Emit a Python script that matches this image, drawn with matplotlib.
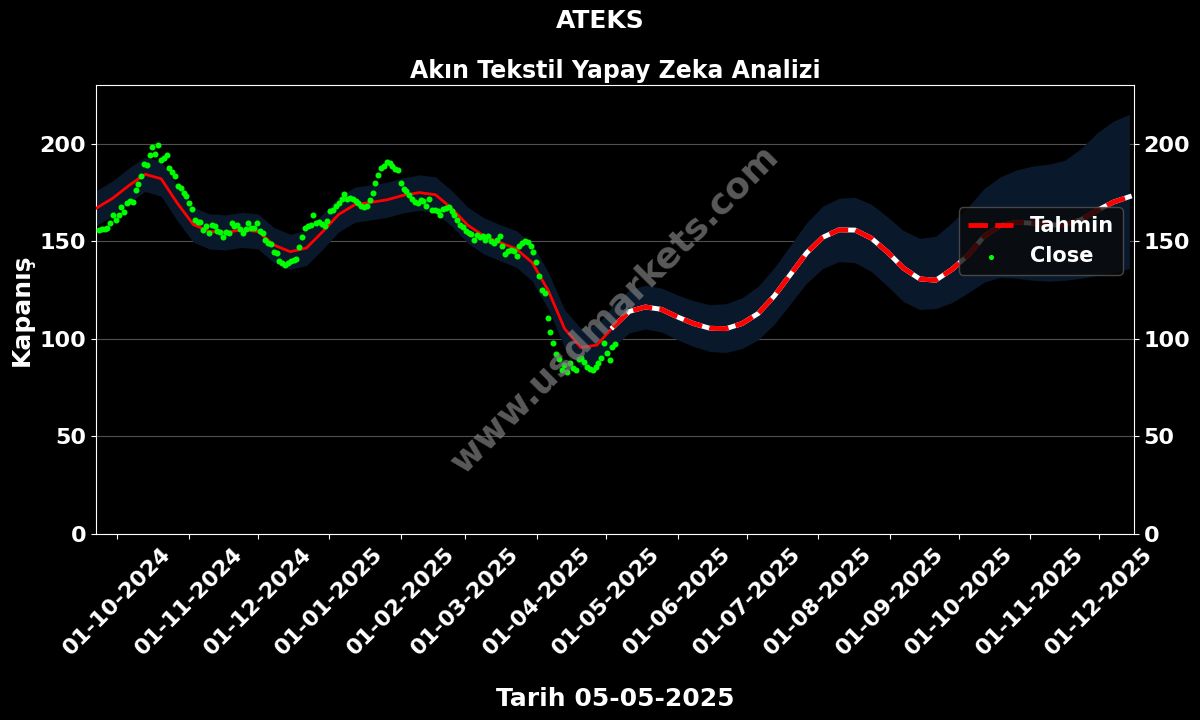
"""ATEKS yapay zeka tahmin grafigi."""
import matplotlib
matplotlib.use("Agg")
import matplotlib.pyplot as plt
import pandas as pd

# Close values (Sep 23 2024 -> May 5 2025)
close = [
    155.9, 156.2, 156.5, 157.0, 159.3, 163.6, 161.0, 163.6, 167.3, 165.0,
    169.8, 170.4, 170.2, 176.4, 179.3, 183.2, 189.6, 188.9, 194.0, 198.1,
    194.8, 199.5, 191.8, 192.6, 194.0, 187.5, 185.4, 183.2, 178.1, 177.3,
    174.7, 173.0, 169.6, 166.7, 161.0, 159.8, 159.8, 155.9, 157.6, 154.2,
    158.5, 158.0, 155.3, 154.9, 152.3, 154.5, 154.2, 159.5, 157.6, 158.5,
    156.0, 154.0, 156.0, 159.5, 157.0, 157.0, 159.5, 155.0, 154.0, 150.4,
    149.3, 148.5, 144.4, 144.0, 140.0, 138.8, 138.0, 138.8, 139.7, 140.5,
    141.0, 146.8, 152.4, 157.0, 157.6, 158.5, 163.6, 159.5, 160.0, 159.0,
    157.6, 160.5, 165.3, 166.2, 168.0, 169.6, 171.4, 174.0, 171.4, 172.0,
    171.6, 170.4, 169.6, 167.9, 167.5, 168.2, 171.3, 174.7, 179.8, 184.1,
    187.5, 188.7, 190.4, 190.0, 188.4, 187.0, 186.7, 179.8, 176.8, 175.6,
    173.8, 171.6, 169.9, 169.6, 171.3, 170.4, 167.9, 171.6, 166.2, 165.8,
    165.3, 163.6, 166.5, 167.0, 167.5, 165.3, 163.6, 161.0, 158.5, 157.2,
    155.0, 154.2, 153.8, 150.8, 153.3, 152.1, 152.8, 150.4, 152.5, 149.9,
    149.0, 150.4, 152.5, 147.4, 143.6, 144.8, 145.6, 144.8, 142.2, 147.4,
    149.0, 149.9, 149.4, 147.4, 144.3, 139.1, 132.0, 125.1, 123.4, 110.6,
    103.7, 97.8, 92.3, 89.6, 84.1, 86.6, 83.2, 87.5, 84.9, 84.1,
    89.6, 90.1, 87.9, 85.8, 84.5, 84.1, 85.5, 87.5, 90.1, 97.8,
    92.6, 88.9, 95.8, 97.5,
]
close_start = "2024-09-23"
close_end = "2025-05-05"

# model curve, weekly from 2024-09-22
fit = [
    167.0, 172.0, 178.5, 184.3, 182.0, 169.5, 158.5, 155.0, 154.5, 155.8,
    155.0, 148.0, 144.6, 146.5, 154.8, 163.7, 168.7, 169.9, 171.2, 173.5,
    174.9, 173.8, 166.9, 158.2, 152.7, 149.3, 146.1, 139.0, 124.5, 105.2,
    95.5, 96.8, 106.0, 114.0, 116.3, 115.1, 111.2, 107.8, 105.4, 105.2,
    107.8, 113.0, 122.0, 133.0, 144.0, 152.0, 155.8, 155.7, 151.6, 144.5,
    136.2, 130.7, 130.0, 135.5, 142.8, 152.5, 158.0, 159.7, 159.2, 158.2,
    158.5, 161.0, 165.8, 170.0, 172.8,
]
band_up = [
    176.0, 181.0, 187.5, 193.0, 191.0, 178.5, 167.5, 164.0, 163.5, 164.8,
    164.0, 157.0, 153.6, 155.5, 163.8, 172.7, 177.7, 178.9, 180.2, 182.5,
    184.0, 183.0, 176.0, 167.5, 162.0, 158.5, 155.5, 148.5, 134.0, 115.0,
    105.5, 107.0, 117.0, 125.0, 127.5, 126.0, 122.5, 119.5, 117.5, 118.0,
    121.0, 127.0, 136.5, 148.0, 159.5, 168.0, 172.0, 172.5, 169.0, 162.5,
    155.5, 151.5, 152.5, 159.5, 167.5, 177.0, 183.0, 186.5, 188.5, 189.5,
    191.5, 197.5, 205.5, 211.5, 215.0,
]
band_lo = [
    158.0, 163.0, 169.5, 175.5, 173.0, 160.5, 149.5, 146.0, 145.5, 146.8,
    146.0, 139.0, 135.6, 137.5, 145.8, 154.7, 159.7, 160.9, 162.2, 164.5,
    165.8, 164.6, 157.8, 149.0, 143.4, 140.0, 136.7, 129.5, 115.0, 95.5,
    85.5, 86.5, 95.5, 103.0, 105.0, 103.5, 99.5, 96.0, 93.5, 93.0,
    95.0, 99.5, 107.5, 118.0, 128.5, 136.0, 139.5, 139.0, 134.5, 127.0,
    119.0, 115.0, 115.5, 118.5, 123.5, 129.0, 131.5, 131.0, 130.0, 129.5,
    130.0, 131.0, 132.5, 134.0, 136.0,
]
fit_start = "2024-09-22"
split = 32  # forecast starts at 2025-05-04

x_ticks = pd.date_range("2024-10-01", "2025-12-01", freq="MS")

close_dates = pd.date_range(close_start, close_end, periods=len(close))
fit_dates = pd.date_range(fit_start, periods=len(fit), freq="7D")

plt.rcParams["font.weight"] = "bold"
plt.rcParams["axes.labelweight"] = "bold"
plt.rcParams["axes.titleweight"] = "bold"

fig = plt.figure(figsize=(12, 7.2), dpi=100, facecolor="black")
ax = fig.add_axes([0.08, 0.2583, 0.865, 0.6236], facecolor="black")

ax.fill_between(fit_dates, band_lo, band_up, color="#09182a", lw=0, zorder=1)
ax.plot(fit_dates[:split + 1], fit[:split + 1], color="red", lw=2,
        solid_joinstyle="round", zorder=3)
ax.plot(fit_dates[split:], fit[split:], color="white", lw=3.5, zorder=3)
ax.plot(fit_dates[split:], fit[split:], color="red", lw=3.5, ls=(0, (4, 1.5)),
        zorder=4, label="Tahmin")
ax.scatter(close_dates, close, s=11, color="#00ff00", zorder=5, label="Close")

ax.set_ylim(0, 230)
ax.set_xlim(pd.Timestamp("2024-09-21 18:00"), pd.Timestamp("2025-12-16"))
ax.set_yticks([0, 50, 100, 150, 200])
ax.set_xticks(x_ticks)
ax.set_xticklabels([d.strftime("%d-%m-%Y") for d in x_ticks], rotation=45)
ax.tick_params(colors="white", labelsize=16, right=True, labelright=True)
for s in ax.spines.values():
    s.set_color("white")
ax.grid(axis="y", color="#505050", lw=0.8)
ax.set_axisbelow(True)

ax.set_title("Akın Tekstil Yapay Zeka Analizi", color="white", fontsize=17, pad=5)
fig.suptitle("ATEKS", color="white", fontsize=18, fontweight="bold", y=0.988)
ax.set_ylabel("Kapanış", color="white", fontsize=18)
ax.set_xlabel("Tarih 05-05-2025", color="white", fontsize=18, labelpad=20)

ax.text(0.5, 0.5, "www.usdmarkets.com", transform=ax.transAxes, fontsize=26,
        color="gray", alpha=0.7, rotation=45, ha="center", va="center",
        fontweight="bold", zorder=6)

leg = ax.legend(loc="center right", bbox_to_anchor=(0.989, 0.6526),
                borderaxespad=0, fontsize=15, facecolor="#0a0a0a",
                edgecolor="#555555", labelcolor="white", markerscale=0.8,
                handlelength=2.2)
leg.set_zorder(7)

fig.savefig("out.png", dpi=100, facecolor="black")
